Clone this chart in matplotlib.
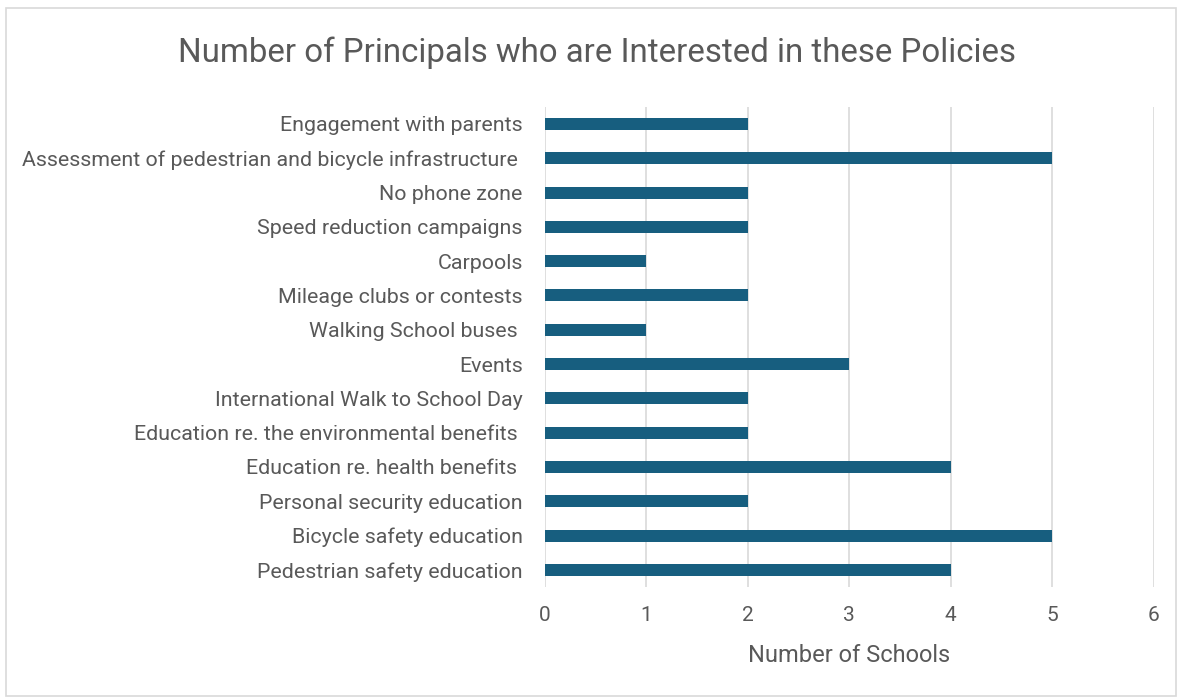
import matplotlib.pyplot as plt
from matplotlib.patches import Rectangle

# data, bottom to top
policies = [
    "Pedestrian safety education",
    "Bicycle safety education",
    "Personal security education",
    "Education re. health benefits ",
    "Education re. the environmental benefits ",
    "International Walk to School Day",
    "Events",
    "Walking School buses ",
    "Mileage clubs or contests",
    "Carpools",
    "Speed reduction campaigns",
    "No phone zone",
    "Assessment of pedestrian and bicycle infrastructure ",
    "Engagement with parents",
]
schools = [4, 5, 2, 4, 2, 2, 3, 1, 2, 1, 2, 2, 5, 2]

text_col = "#595959"
bar_col = "#175E7F"
plt.rcParams['font.family'] = ['Roboto', 'DejaVu Sans']

fig = plt.figure(figsize=(11.82, 6.98), dpi=100)
ax = fig.add_axes([0.461, 0.159, 0.515, 0.688])

ax.barh(range(len(policies)), schools, height=0.35, color=bar_col, zorder=3)

ax.set_xlim(0, 6)
ax.set_ylim(-0.5, len(policies) - 0.5)
ax.set_yticks(range(len(policies)))
ax.set_yticklabels(policies, fontsize=15.4, color=text_col)
ax.set_xticks(range(7))
ax.tick_params(axis='x', labelsize=15, labelcolor=text_col, length=0, pad=14)
ax.tick_params(axis='y', length=0, pad=16)
ax.grid(axis='x', color="#D9D9D9", linewidth=1.2, zorder=0)
for s in ax.spines.values():
    s.set_visible(False)

ax.set_xlabel("Number of Schools", fontsize=17, color=text_col, labelpad=13)
fig.text(0.505, 0.925, "Number of Principals who are Interested in these Policies",
         ha='center', va='center', fontsize=23.8, color=text_col)

fig.patches.append(Rectangle((0.005, 0.003), 0.99, 0.985, transform=fig.transFigure,
                             fill=False, edgecolor="#D9D9D9", linewidth=1.2))

fig.savefig("out.png", dpi=100)
